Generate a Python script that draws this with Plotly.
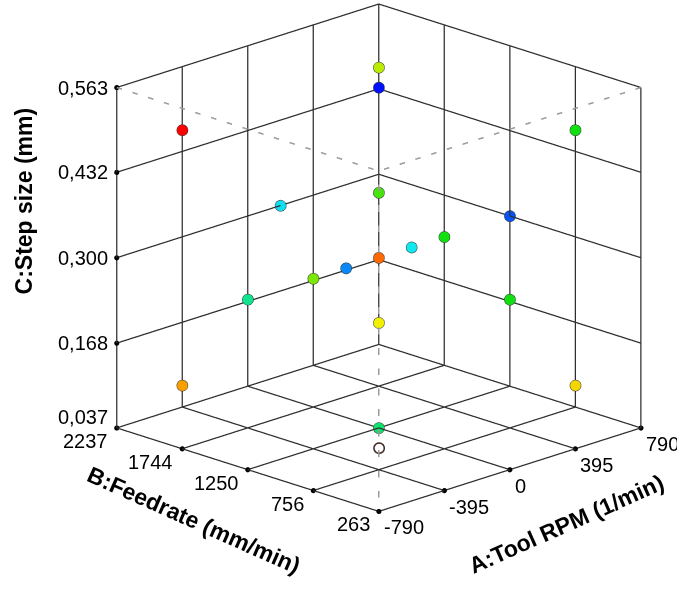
import plotly.graph_objects as go

# Axis definitions
a_ticks = [-790, -395, 0, 395, 790]
a_labels = ["-790", "-395", "0", "395", "790"]
b_ticks = [263, 756, 1250, 1744, 2237]
b_labels = ["263", "756", "1250", "1744", "2237"]
c_ticks = [0.037, 0.168, 0.300, 0.432, 0.563]
c_labels = ["0,037", "0,168", "0,300", "0,432", "0,563"]

a_title = "A:Tool RPM (1/min)"
b_title = "B:Feedrate (mm/min)"
c_title = "C:Step size (mm)"

# Design points (A: Tool RPM, B: Feedrate, C: Step size) and response level (0..1)
tool_rpm = [-592.5, 592.5, 0, 592.5, -592.5, 197.5, 790, 395, 197.5, 0,
            -197.5, -395, -790, 592.5, 0, -592.5, 592.5, 0]
feedrate = [1990.25, 1990.25, 1250, 509.75, 509.75, 2237, 1250, 1250, 1250, 1250,
            1250, 1250, 1250, 1990.25, 263, 1990.25, 509.75, 1250]
step_size = [0.4973, 0.4973, 0.563, 0.4973, 0.4973, 0.300, 0.300, 0.300, 0.300, 0.300,
             0.300, 0.300, 0.300, 0.1027, 0.300, 0.1027, 0.1027, 0.037]
response = [1.00, 0.69, 0.00, 0.50, 0.56, 0.24, 0.08, 0.50, 0.25, 0.90,
            0.14, 0.62, 0.36, 0.75, 0.50, 0.84, 0.78, 0.40]

# Hollow (excluded) point
hollow_a = [-592.5]
hollow_b = [509.75]
hollow_c = [0.1027]

a_min, a_max = a_ticks[0], a_ticks[-1]
b_min, b_max = b_ticks[0], b_ticks[-1]
c_min, c_max = c_ticks[0], c_ticks[-1]
a_mid, b_mid, c_mid = a_ticks[2], b_ticks[2], c_ticks[2]

colorscale = [[0.0, "#0010ff"], [0.25, "#10e8f0"], [0.5, "#10e010"],
              [0.75, "#f0f000"], [0.9, "#ff6a00"], [1.0, "#ff0000"]]

fig = go.Figure()

# ---- grid on floor and the two back walls, built from the tick arrays
gx, gy, gz = [], [], []
def seg(p, q):
    gx.extend([p[0], q[0], None]); gy.extend([p[1], q[1], None]); gz.extend([p[2], q[2], None])
for a in a_ticks:
    seg((a, b_min, c_min), (a, b_max, c_min))      # floor, along B
    seg((a, b_max, c_min), (a, b_max, c_max))      # back-left wall verticals
for b in b_ticks:
    seg((a_min, b, c_min), (a_max, b, c_min))      # floor, along A
    seg((a_max, b, c_min), (a_max, b, c_max))      # back-right wall verticals
for c in c_ticks:
    seg((a_min, b_max, c), (a_max, b_max, c))      # back-left wall horizontals
    seg((a_max, b_min, c), (a_max, b_max, c))      # back-right wall horizontals
fig.add_trace(go.Scatter3d(x=gx, y=gy, z=gz, mode="lines",
                           line=dict(color="#2e2e2e", width=2.5),
                           hoverinfo="skip", showlegend=False))

# dashed front edges of the cube
fig.add_trace(go.Scatter3d(
    x=[a_min, a_min, a_max, None, a_min, a_min],
    y=[b_max, b_min, b_min, None, b_min, b_min],
    z=[c_max, c_max, c_max, None, c_max, c_min],
    mode="lines",
    line=dict(color="#9a9a9a", width=3, dash="dash"),
    hoverinfo="skip", showlegend=False))

# tick dots on the labelled axes
tdx = [a_min] * len(c_ticks) + [a_min] * len(b_ticks) + list(a_ticks)
tdy = [b_max] * len(c_ticks) + list(b_ticks) + [b_min] * len(a_ticks)
tdz = list(c_ticks) + [c_min] * len(b_ticks) + [c_min] * len(a_ticks)
fig.add_trace(go.Scatter3d(x=tdx, y=tdy, z=tdz, mode="markers",
                           marker=dict(size=3, color="#000000"),
                           hoverinfo="skip", showlegend=False))

fig.add_trace(go.Scatter3d(
    x=tool_rpm, y=feedrate, z=step_size,
    mode="markers",
    marker=dict(size=6.5, color=response, colorscale=colorscale, cmin=0, cmax=1,
                line=dict(color="#333333", width=1), opacity=1),
    hoverinfo="skip", showlegend=False))

fig.add_trace(go.Scatter3d(
    x=hollow_a, y=hollow_b, z=hollow_c,
    mode="markers",
    marker=dict(size=6.5, symbol="circle-open", color="#5a1a10", line=dict(width=2)),
    hoverinfo="skip", showlegend=False))

axis_common = dict(
    showbackground=False, showgrid=False, zeroline=False, showline=False,
    ticks="", showspikes=False, showticklabels=False, tickmode="array",
    title=dict(text=""),
)

tick_font = dict(family="Liberation Sans, Arial", size=20, color="#000")
title_font = dict(family="Liberation Sans, Arial", size=23, color="#000")

annotations = []
for v, t in zip(c_ticks, c_labels):
    annotations.append(dict(x=a_min, y=b_max, z=v, text=t, showarrow=False,
                            xanchor="right", yanchor="middle", xshift=-7,
                            yshift=11 if v == c_min else 0, font=tick_font))
for v, t in zip(b_ticks, b_labels):
    annotations.append(dict(x=a_min, y=v, z=c_min, text=t, showarrow=False,
                            xanchor="right", yanchor="middle", xshift=-7,
                            yshift=-13, font=tick_font))
for v, t in zip(a_ticks, a_labels):
    annotations.append(dict(x=v, y=b_min, z=c_min, text=t, showarrow=False,
                            xanchor="left", yanchor="middle", xshift=3,
                            yshift=-16, font=tick_font))
annotations.append(dict(x=a_min, y=b_max, z=c_mid, text="<b>" + c_title + "</b>",
                        showarrow=False, textangle=-90, xanchor="center",
                        yanchor="middle", xshift=-93, yshift=57, font=title_font))
annotations.append(dict(x=a_min, y=b_mid, z=c_min, text="<b>" + b_title + "</b>",
                        showarrow=False, textangle=24, xanchor="center",
                        yanchor="middle", xshift=-54, yshift=-50, font=title_font))
annotations.append(dict(x=a_mid, y=b_min, z=c_min, text="<b>" + a_title + "</b>",
                        showarrow=False, textangle=-24, xanchor="center",
                        yanchor="middle", xshift=56, yshift=-54, font=title_font))

# tiny padding so the box edges (at the range limits) are not clipped
pad = 0.002
def padded(lo, hi):
    span = hi - lo
    return [lo - pad * span, hi + pad * span]

zoom_xy = 1.255
zoom_z = 1.216
cx, cy, cz = -0.0961, 0.0961, -0.138
dirv = (-0.6703, -0.6703, 0.3185)
D = 1.9

fig.update_layout(
    width=677, height=593,
    margin=dict(l=0, r=0, t=0, b=0),
    paper_bgcolor="white",
    font=dict(family="Liberation Sans, Arial", color="#000"),
    scene=dict(
        xaxis=dict(axis_common, range=padded(a_min, a_max), tickvals=a_ticks),
        yaxis=dict(axis_common, range=padded(b_min, b_max), tickvals=b_ticks),
        zaxis=dict(axis_common, range=padded(c_min, c_max), tickvals=c_ticks),
        aspectmode="manual",
        aspectratio=dict(x=zoom_xy, y=zoom_xy, z=zoom_z),
        annotations=annotations,
        camera=dict(
            projection=dict(type="orthographic"),
            center=dict(x=cx, y=cy, z=cz),
            eye=dict(x=cx + D * dirv[0], y=cy + D * dirv[1], z=cz + D * dirv[2]),
            up=dict(x=0, y=0, z=1),
        ),
    ),
)

fig.write_html("out.html")
